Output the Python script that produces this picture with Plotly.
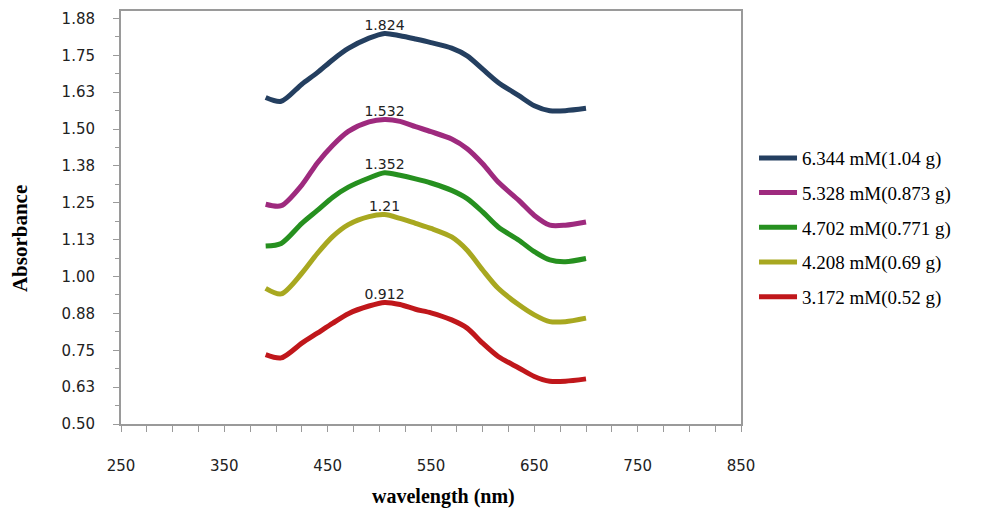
import plotly.graph_objects as go

wavelength = [390, 405, 425, 440, 455, 470, 490, 505, 520, 535, 550, 570, 585, 600, 615, 635, 650, 665, 680, 700]

series_names = [
    "6.344 mM(1.04 g)",
    "5.328 mM(0.873 g)",
    "4.702 mM(0.771 g)",
    "4.208 mM(0.69 g)",
    "3.172 mM(0.52 g)",
]

abs_6344 = [1.607, 1.594, 1.652, 1.691, 1.735, 1.773, 1.808, 1.824, 1.816, 1.805, 1.793, 1.774, 1.748, 1.703, 1.658, 1.613, 1.579, 1.562, 1.562, 1.570]
abs_5328 = [1.245, 1.240, 1.310, 1.385, 1.445, 1.492, 1.524, 1.532, 1.526, 1.508, 1.491, 1.466, 1.433, 1.382, 1.320, 1.258, 1.207, 1.174, 1.174, 1.185]
abs_4702 = [1.103, 1.112, 1.180, 1.224, 1.269, 1.303, 1.334, 1.352, 1.343, 1.331, 1.317, 1.292, 1.264, 1.219, 1.168, 1.123, 1.084, 1.056, 1.050, 1.061]
abs_4208 = [0.960, 0.941, 1.011, 1.078, 1.136, 1.176, 1.203, 1.210, 1.197, 1.180, 1.163, 1.134, 1.089, 1.022, 0.960, 0.904, 0.870, 0.847, 0.847, 0.859]
abs_3172 = [0.735, 0.724, 0.774, 0.808, 0.842, 0.874, 0.900, 0.912, 0.905, 0.889, 0.877, 0.853, 0.825, 0.774, 0.729, 0.690, 0.661, 0.645, 0.645, 0.653]

peak_labels = ["1.824", "1.532", "1.352", "1.21", "0.912"]

colors = ["#243F60", "#9E2A7E", "#26901F", "#A8A820", "#C0171B"]

y_tickvals = [0.5, 0.625, 0.75, 0.875, 1.0, 1.125, 1.25, 1.375, 1.5, 1.625, 1.75, 1.875]
y_ticktext = ["0.50", "0.63", "0.75", "0.88", "1.00", "1.13", "1.25", "1.38", "1.50", "1.63", "1.75", "1.88"]
x_tickvals = [250, 350, 450, 550, 650, 750, 850]

all_series = [abs_6344, abs_5328, abs_4702, abs_4208, abs_3172]

fig = go.Figure()
for i, (name, ys) in enumerate(zip(series_names, all_series)):
    peak_idx = ys.index(max(ys))
    texts = [""] * len(ys)
    texts[peak_idx] = peak_labels[i]
    fig.add_trace(go.Scatter(
        x=wavelength, y=ys, name=name, mode="lines+text",
        text=texts, textposition="top center",
        textfont=dict(family="DejaVu Sans", size=14, color="#222222"),
        line=dict(color=colors[i], width=5, shape="spline", smoothing=0.8),
        legendgroup=name,
    ))

axis_color = "#9A9A9A"
fig.update_xaxes(
    range=[250, 850], tickvals=x_tickvals, ticks="outside", ticklen=6, tickwidth=1.3,
    tickcolor=axis_color, showline=True, linecolor=axis_color, linewidth=2, mirror=True,
    showgrid=False, zeroline=False,
    minor=dict(dtick=25, tick0=250, ticks="outside", ticklen=6, tickcolor=axis_color, showgrid=False),
    tickfont=dict(family="DejaVu Sans", size=15, color="#222222"),
    ticklabelstandoff=21,
)
fig.update_yaxes(
    range=[0.5, 1.9], tickvals=y_tickvals, ticktext=y_ticktext, ticks="outside", ticklen=6,
    tickwidth=1.3, tickcolor=axis_color, showline=True, linecolor=axis_color, linewidth=2,
    mirror=True, showgrid=False, zeroline=False,
    minor=dict(dtick=0.0625, tick0=0.5, ticks="outside", ticklen=4, tickcolor=axis_color, showgrid=False),
    tickfont=dict(family="DejaVu Sans", size=15, color="#222222"),
    ticklabelstandoff=15,
)

fig.add_annotation(text="<b>wavelength (nm)</b>", xref="paper", yref="paper",
                   x=0.52, y=-0.175, xanchor="center", yanchor="middle", showarrow=False,
                   font=dict(family="Liberation Serif", size=20, color="#000000"))
fig.add_annotation(text="<b>Absorbance</b>", xref="paper", yref="paper",
                   x=-0.163, y=0.45, xanchor="center", yanchor="middle", showarrow=False,
                   textangle=-90,
                   font=dict(family="Liberation Serif", size=21, color="#000000"))

fig.update_layout(
    width=982, height=518,
    margin=dict(l=121, r=241, t=9, b=94),
    plot_bgcolor="white", paper_bgcolor="white",
    showlegend=True,
    legend=dict(x=1.021, xanchor="left", y=0.69, yanchor="top",
                font=dict(family="Liberation Serif", size=19, color="#000000"),
                tracegroupgap=7, itemwidth=38, bgcolor="rgba(0,0,0,0)"),
)

fig.write_html("out.html")
